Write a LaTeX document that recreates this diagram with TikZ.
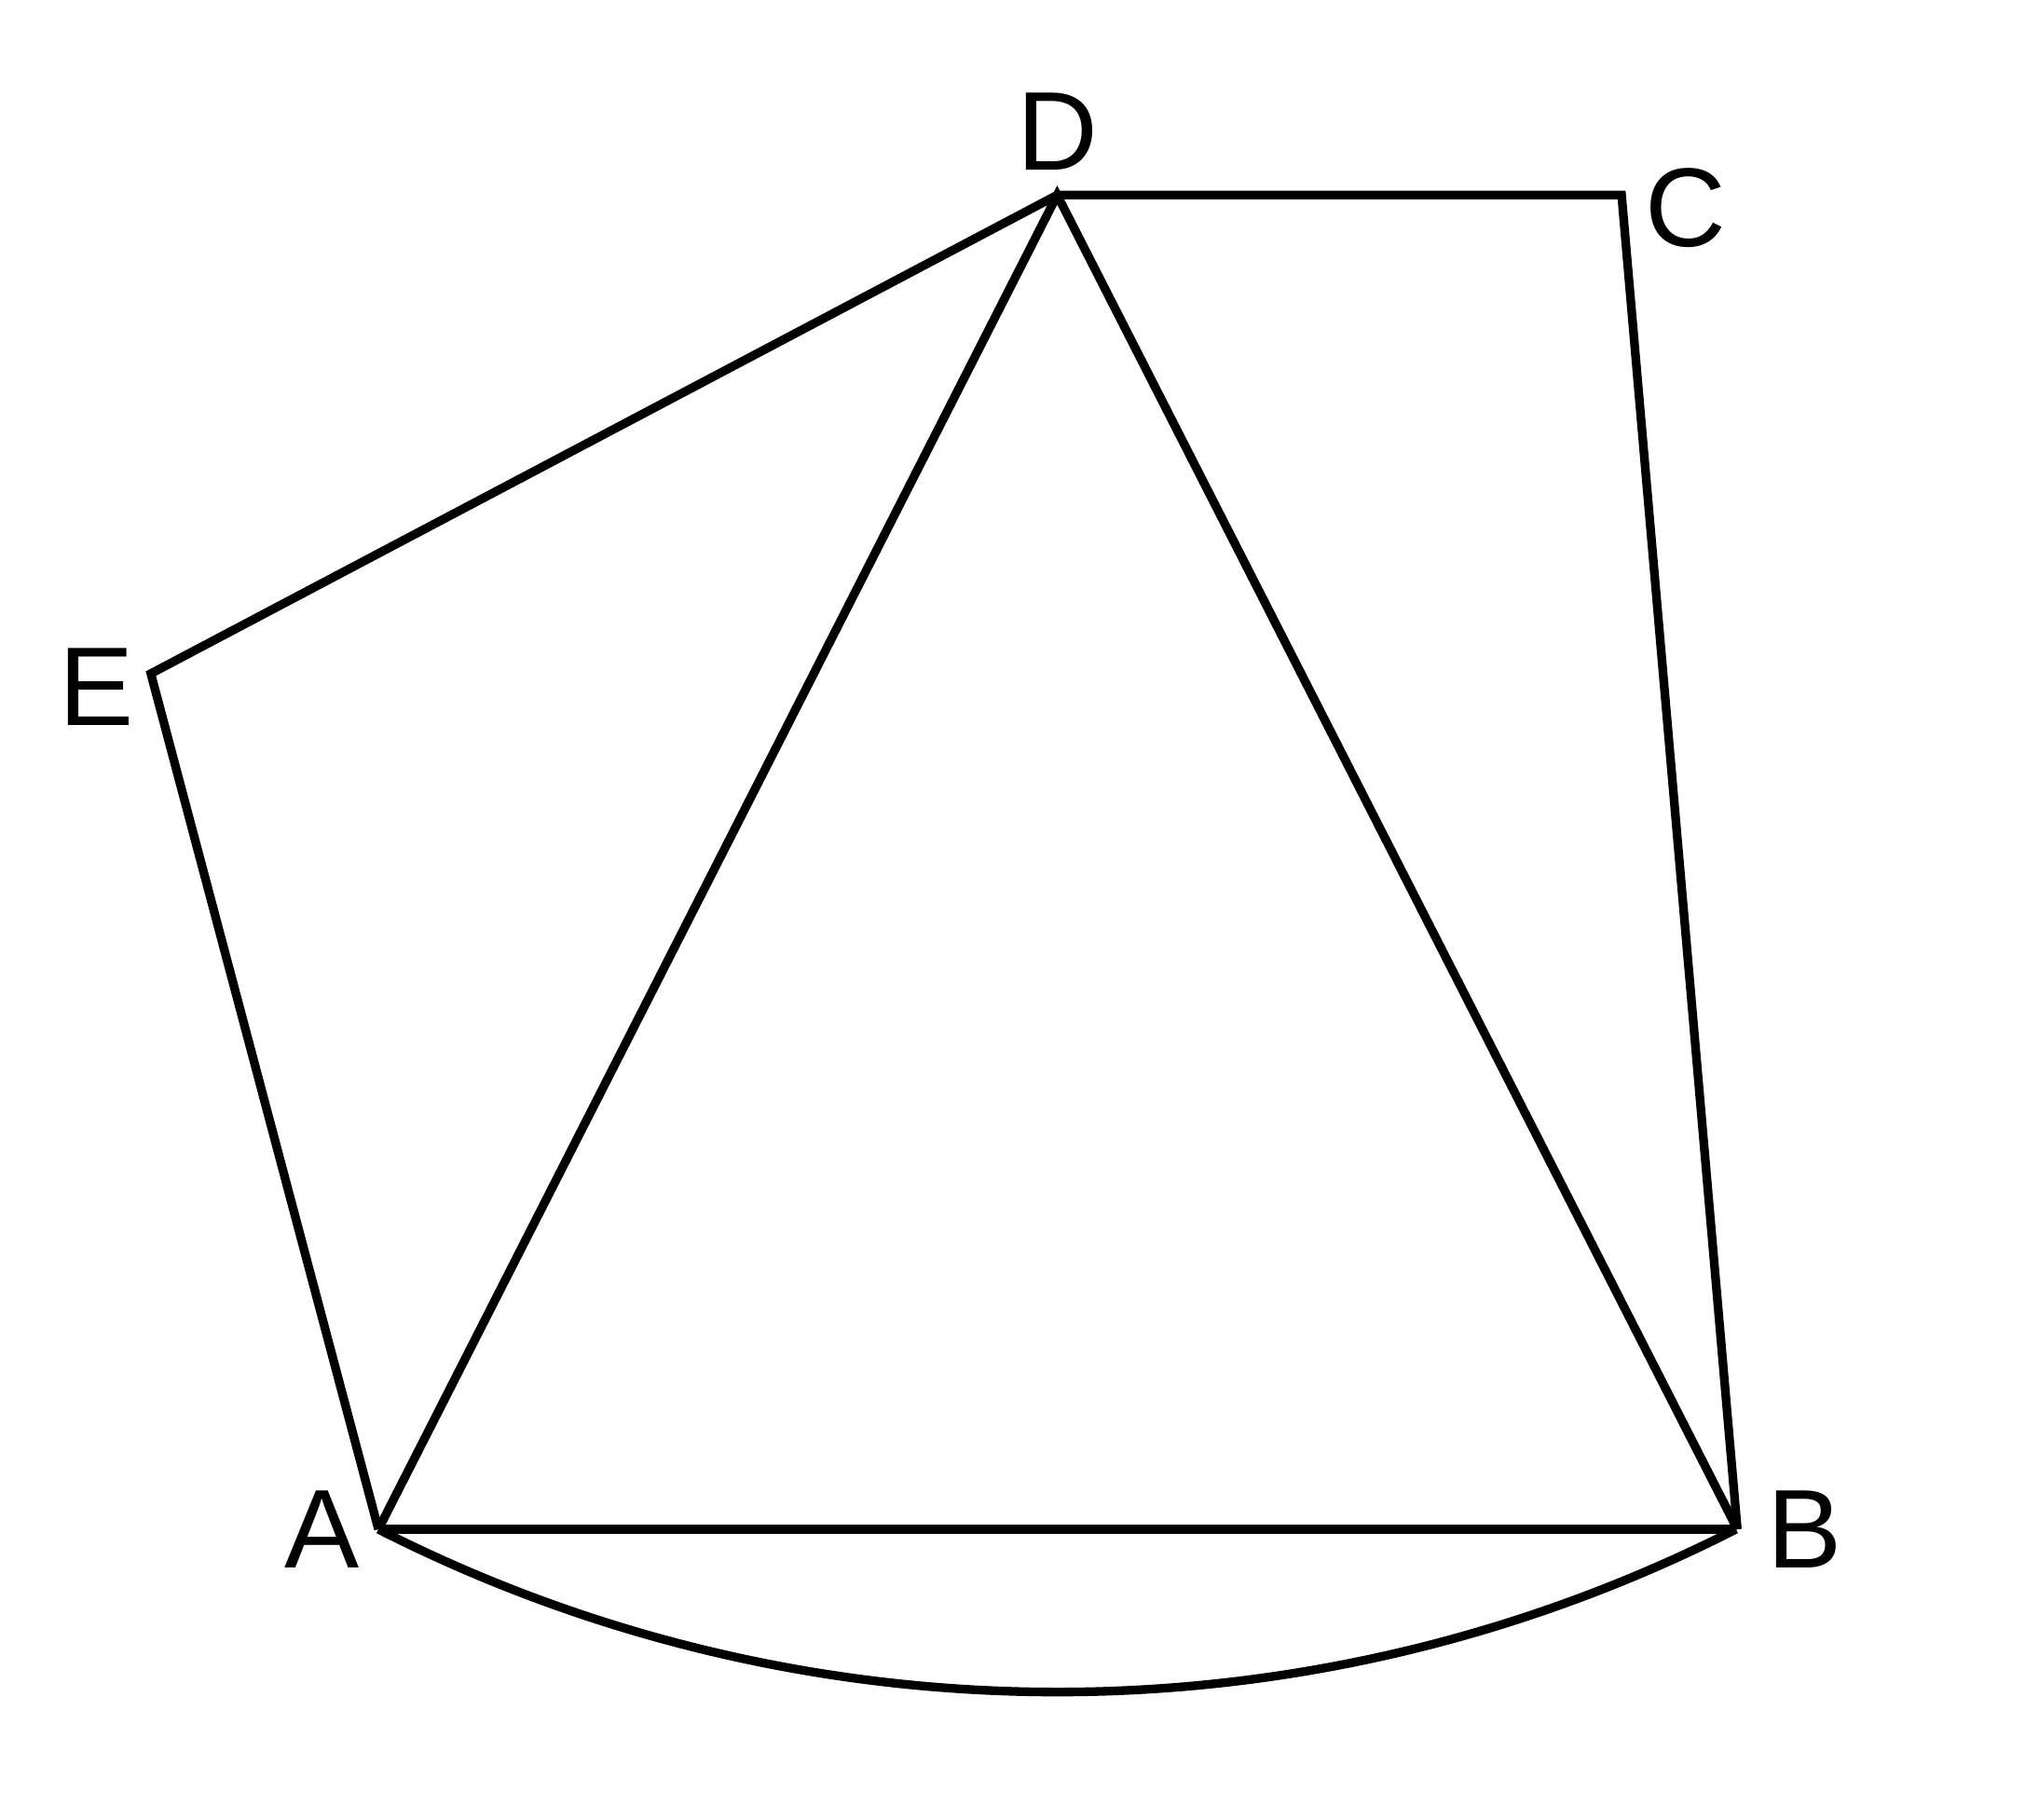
\documentclass[tikz,border=0pt]{standalone}
\usepackage{fontspec}
\setmainfont{Liberation Sans}
\usetikzlibrary{positioning}

\tikzset{
    vertex/.style={inner sep=0pt, minimum size=0pt},
    vlabel/.style={inner sep=0pt, font=\fontsize{24.5}{29}\selectfont},
    edge/.style={line width=1.9pt, line join=miter}
}

\begin{document}
\begin{tikzpicture}
    \useasboundingbox (0, 0) rectangle (15.68, -13.99);

    \node[vertex] (D) at (8.13, -1.50) {};
    \node[vertex] (C) at (12.47, -1.50) {};
    \node[vertex] (E) at (1.16, -5.18) {};
    \node[vertex] (A) at (2.91, -11.76) {};
    \node[vertex] (B) at (13.36, -11.76) {};

    \node [above = 0.18 of D, vlabel] {D};
    \node [right = 0.17 of C, yshift=-1mm, vlabel] {C};
    \node [left = 0.12 of E, yshift=-1mm, vlabel] {E};
    \node [left = 0.13 of A, vlabel] {A};
    \node [right = 0.22 of B, vlabel] {B};

    \draw[edge] (A.center) -- (E.center) -- (D.center) -- (C.center) -- (B.center);
    \draw[edge] (A.center) -- (D.center) -- (B.center);
    \draw[edge] (A) -- (B);
    \draw[edge] (A) arc[start angle=243.03, end angle=296.97, radius=11.51];
\end{tikzpicture}
\end{document}
